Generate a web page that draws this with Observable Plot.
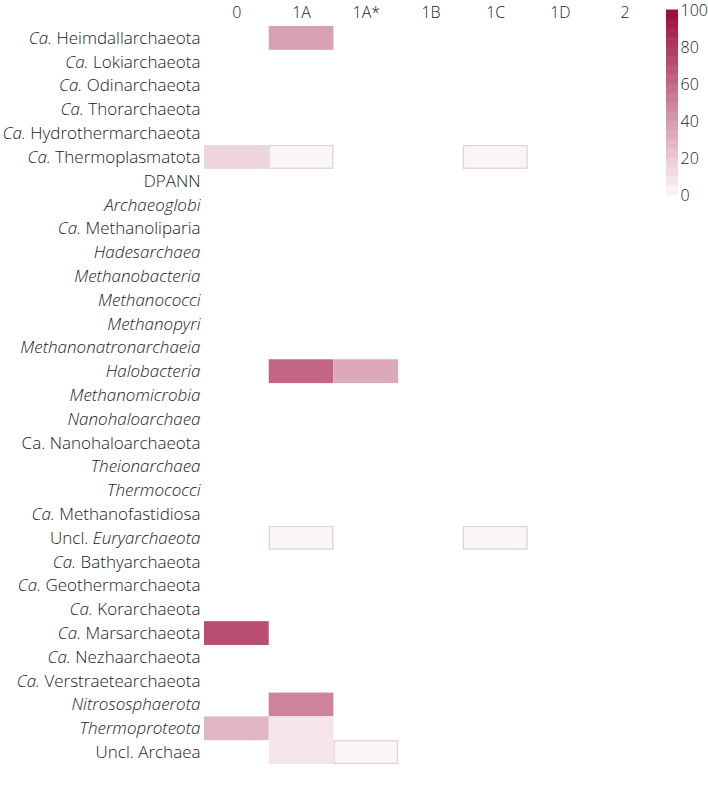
<!DOCTYPE html>
<html>
<head>
<meta charset="utf-8">
<script src="https://cdn.jsdelivr.net/npm/d3@7"></script>
<script src="https://cdn.jsdelivr.net/npm/@observablehq/plot@0.6"></script>
<style>
  html, body { margin: 0; padding: 0; background: #fff; overflow: hidden; }
  #wrap { position: relative; width: 708px; height: 789px; }
  #legend { position: absolute; left: 648px; top: 0; }
  svg { display: block; font-family: "Open Sans", Roboto, sans-serif; font-weight: 300; }
  #wrap svg text { font-size: 16px; fill: #1a1a1a; }
  #main svg g[aria-label='y-axis tick label'] text { font-size: 17px; }
</style>
</head>
<body>
<div id="wrap"><div id="main"></div><div id="legend"></div></div>
<script>
// Groups (columns)
const groups = ["0", "1A", "1A*", "1B", "1C", "1D", "2"];

// Taxa (rows); text between underscores is set in italics
const taxa = [
  "_Ca._ Heimdallarchaeota",
  "_Ca._ Lokiarchaeota",
  "_Ca._ Odinarchaeota",
  "_Ca._ Thorarchaeota",
  "_Ca._ Hydrothermarchaeota",
  "_Ca._ Thermoplasmatota",
  "DPANN",
  "_Archaeoglobi_",
  "_Ca._ Methanoliparia",
  "_Hadesarchaea_",
  "_Methanobacteria_",
  "_Methanococci_",
  "_Methanopyri_",
  "_Methanonatronarchaeia_",
  "_Halobacteria_",
  "_Methanomicrobia_",
  "_Nanohaloarchaea_",
  "Ca. Nanohaloarchaeota",
  "_Theionarchaea_",
  "_Thermococci_",
  "_Ca._ Methanofastidiosa",
  "Uncl. _Euryarchaeota_",
  "_Ca._ Bathyarchaeota",
  "_Ca._ Geothermarchaeota",
  "_Ca._ Korarchaeota",
  "_Ca._ Marsarchaeota",
  "_Ca._ Nezhaarchaeota",
  "_Ca._ Verstraetearchaeota",
  "_Nitrososphaerota_",
  "_Thermoproteota_",
  "Uncl. Archaea"
];

// Non-zero cells: taxon, group, percentage
const cellTaxon = [
  "_Ca._ Heimdallarchaeota",
  "_Ca._ Thermoplasmatota", "_Ca._ Thermoplasmatota", "_Ca._ Thermoplasmatota",
  "_Halobacteria_", "_Halobacteria_",
  "Uncl. _Euryarchaeota_", "Uncl. _Euryarchaeota_",
  "_Ca._ Marsarchaeota",
  "_Nitrososphaerota_",
  "_Thermoproteota_", "_Thermoproteota_",
  "Uncl. Archaea", "Uncl. Archaea"
];
const cellGroup = ["1A", "0", "1A", "1C", "1A", "1A*", "1A", "1C", "0", "1A", "0", "1A", "1A", "1A*"];
const cellValue = [40, 18, 4, 4, 64, 36, 4, 4, 74, 52, 31, 11, 11, 4];

// Colour bar ticks
const legendTicks = [0, 20, 40, 60, 80, 100];

const cells = cellValue.map((v, i) => ({taxon: cellTaxon[i], group: cellGroup[i], value: v}));

const color = {type: "linear", domain: [0, 100], range: ["#ffffff", "#a10f40"]};

const chart = Plot.plot({
  width: 708,
  height: 789,
  marginTop: 26,
  marginBottom: 25,
  marginLeft: 204,
  marginRight: 51,
  x: {domain: groups, padding: 0, round: false, axis: "top", tickSize: 0, tickPadding: 9, label: null},
  y: {domain: taxa, padding: 0, round: false, tickSize: 0, tickPadding: 4, label: null},
  color,
  marks: [
    Plot.cell(cells, {x: "group", y: "taxon", fill: "value"}),
    Plot.cell(cells.filter(d => d.value < 8), {x: "group", y: "taxon", fill: "none", stroke: "#d6d6d6", strokeWidth: 1.2, inset: 0.6})
  ]
});

// Rebuild the row labels with italic segments
d3.select(chart).selectAll("g[aria-label='y-axis tick label'] text").each(function () {
  const t = d3.select(this);
  const raw = t.text();
  t.text(null);
  raw.split("_").forEach((part, i) => {
    if (part === "") return;
    t.append("tspan").attr("font-style", i % 2 === 1 ? "italic" : null).text(part);
  });
});
document.getElementById("main").append(chart);

// Vertical stepped colour bar
const steps = d3.range(0, 100, 5);
const legend = Plot.plot({
  width: 60,
  height: 206,
  marginTop: 10,
  marginBottom: 11,
  marginLeft: 18,
  marginRight: 30,
  y: {domain: [0, 100], ticks: legendTicks, axis: "right", tickSize: 0, tickPadding: 2, label: null},
  color,
  marks: [
    Plot.rectY(steps, {y1: d => d, y2: d => d + 5, fill: d => d + 5, insetTop: -0.5})
  ]
});
document.getElementById("legend").append(legend);
</script>
</body>
</html>
